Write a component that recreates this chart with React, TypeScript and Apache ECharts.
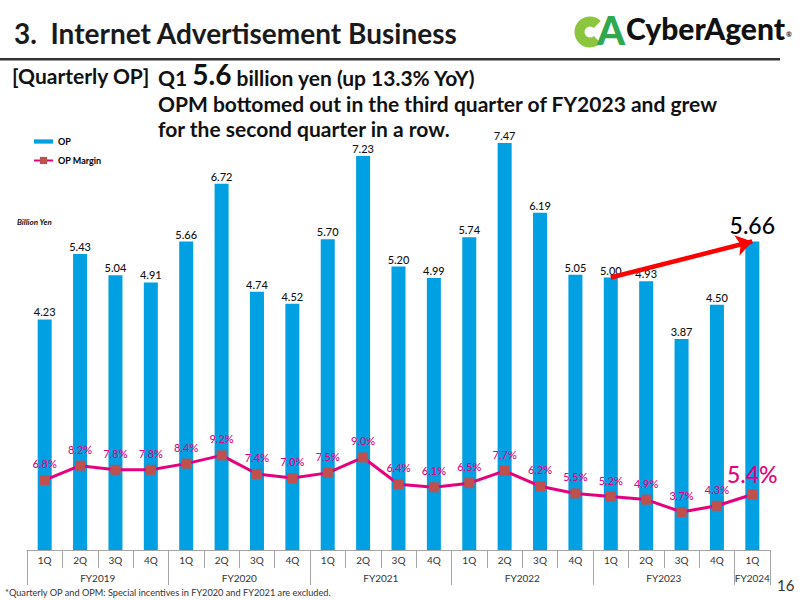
import React, { useEffect, useRef } from "react";
import * as echarts from "echarts";

// Quarter labels along the bottom axis
const quarterLabels = [
  "1Q", "2Q", "3Q", "4Q",
  "1Q", "2Q", "3Q", "4Q",
  "1Q", "2Q", "3Q", "4Q",
  "1Q", "2Q", "3Q", "4Q",
  "1Q", "2Q", "3Q", "4Q",
  "1Q",
];

// Fiscal years and how many quarters each one spans on the axis
const fiscalYears = ["FY2019", "FY2020", "FY2021", "FY2022", "FY2023", "FY2024"];
const quartersPerYear = [4, 4, 4, 4, 4, 1];

// Operating profit (billion yen)
const opValues = [
  4.23, 5.43, 5.04, 4.91,
  5.66, 6.72, 4.74, 4.52,
  5.70, 7.23, 5.20, 4.99,
  5.74, 7.47, 6.19, 5.05,
  5.00, 4.93, 3.87, 4.50,
  5.66,
];

// Operating profit margin (%)
const opmValues = [
  6.8, 8.2, 7.8, 7.8,
  8.4, 9.2, 7.4, 7.0,
  7.5, 9.0, 6.4, 6.1,
  6.5, 7.7, 6.2, 5.5,
  5.2, 4.9, 3.7, 4.3,
  5.4,
];

const FONT = "Lato, 'Noto Sans', sans-serif";
const BLUE = "#00a0e2";
const PINK = "#e6007e";
const MARKER = "#c0504d";

export default function App() {
  const ref = useRef<HTMLDivElement>(null);

  useEffect(() => {
    if (!ref.current) return;
    const chart = echarts.init(ref.current, undefined, { renderer: "svg" });

    // Half-quarter point axis for the fiscal-year row: boundaries and centres
    const n = quarterLabels.length;
    const yearAxisData: string[] = new Array(2 * n + 1).fill("");
    const boundaries = new Set<number>();
    let cum = 0;
    boundaries.add(0);
    quartersPerYear.forEach((q, i) => {
      const start = cum;
      cum += q;
      boundaries.add(2 * cum);
      yearAxisData[start + cum] = fiscalYears[i];
    });

    const last = n - 1;

    const option: echarts.EChartsOption = {
      animation: false,
      textStyle: { fontFamily: FONT },
      grid: { left: 27, right: 30, top: 114, bottom: 50, containLabel: false },
      legend: {
        orient: "vertical",
        left: 28,
        top: 132,
        itemGap: 10,
        itemWidth: 19,
        itemHeight: 9,
        textStyle: { fontSize: 9, fontWeight: "bold", color: "#000", fontFamily: FONT },
        data: [
          { name: "OP", icon: "path://M0,0h20v4.5h-20z" },
          { name: "OP Margin" },
        ],
      },
      xAxis: [
        {
          type: "category",
          data: quarterLabels,
          boundaryGap: true,
          axisLine: { lineStyle: { color: "#a6a6a6", width: 1 } },
          axisTick: { show: true, interval: 0, length: 18, lineStyle: { color: "#a6a6a6" } },
          axisLabel: { interval: 0, fontSize: 10, color: "#333", margin: 5, fontFamily: FONT },
        },
        {
          type: "category",
          data: yearAxisData,
          boundaryGap: false,
          position: "bottom",
          axisLine: { show: false },
          axisTick: {
            show: true,
            length: 35,
            interval: (idx: number) => boundaries.has(idx),
            lineStyle: { color: "#a6a6a6" },
          },
          axisLabel: { interval: 0, fontSize: 10, color: "#333", margin: 23, fontFamily: FONT },
        },
      ],
      yAxis: [
        { type: "value", min: 0, max: 8, show: false, splitLine: { show: false } },
        { type: "value", min: 0, max: 42.4, show: false, splitLine: { show: false } },
      ],
      series: [
        {
          name: "OP",
          type: "bar",
          xAxisIndex: 0,
          yAxisIndex: 0,
          barWidth: 14,
          itemStyle: { color: BLUE },
          label: {
            show: true,
            position: "top",
            distance: 2,
            fontSize: 11,
            lineHeight: 11,
            fontWeight: 500,
            color: "#111",
            fontFamily: FONT,
            formatter: (p: any) => Number(p.value).toFixed(2),
          },
          data: opValues.map((v, i) =>
            i === last
              ? { value: v, label: { fontSize: 23, lineHeight: 23, distance: 5, color: "#000" } }
              : v
          ),
          markLine: {
            silent: true,
            symbol: ["none", "arrow"],
            symbolSize: 16,
            label: { show: false },
            lineStyle: { color: "#ff0000", width: 4.5, type: "solid" },
            emphasis: { disabled: true },
            data: [
              [
                { coord: [16, opValues[16]] },
                { coord: [last, opValues[last]] },
              ],
            ] as any,
          },
        },
        {
          name: "OP Margin",
          type: "line",
          xAxisIndex: 0,
          yAxisIndex: 1,
          symbol: "rect",
          symbolSize: 10,
          z: 5,
          itemStyle: { color: MARKER },
          lineStyle: { color: PINK, width: 3 },
          label: {
            show: true,
            position: "top",
            distance: 6,
            fontSize: 11,
            fontWeight: 500,
            color: PINK,
            fontFamily: FONT,
            formatter: (p: any) => Number(p.value).toFixed(1) + "%",
          },
          data: opmValues.map((v, i) =>
            i === last ? { value: v, label: { fontSize: 23, distance: 4 } } : v
          ),
        },
      ],
      graphic: [
        {
          type: "text",
          left: 14,
          top: 19,
          style: {
            text: "3.  Internet Advertisement Business",
            font: `bold 28px ${FONT}`,
            fill: "#1a1a1a",
          },
        },
        {
          type: "rect",
          shape: { x: 0, y: 58, width: 780, height: 2.5 },
          style: { fill: "#333" },
        },
        // company logo: "C" mark drawn as a thick arc, "A" as text
        {
          type: "arc",
          shape: { cx: 590, cy: 32, r: 10.5, startAngle: 0.8, endAngle: Math.PI * 2 - 0.8, clockwise: true },
          style: { stroke: "#8cc63e", lineWidth: 10, fill: "none", lineCap: "butt" },
        },
        {
          type: "text",
          left: 597,
          top: 10,
          style: { text: "A", font: `900 40px ${FONT}`, fill: "#2fa84f" },
        },
        {
          type: "text",
          left: 626,
          top: 13,
          style: {
            text: "{n|CyberAgent}{r|®}",
            rich: {
              n: { font: `900 30px ${FONT}`, fill: "#111", verticalAlign: "bottom" },
              r: { font: `bold 7px ${FONT}`, fill: "#111", verticalAlign: "bottom", padding: [0, 0, 6, 1] },
            },
          } as any,
        },
        // headline
        {
          type: "text",
          left: 12,
          top: 65,
          style: { text: "[Quarterly OP]", font: `bold 21px ${FONT}`, fill: "#111" },
        },
        {
          type: "text",
          left: 158,
          top: 60,
          style: {
            text: "{a|Q1 }{b|5.6}{a| billion yen (up 13.3% YoY)}",
            rich: {
              a: { font: `bold 21px ${FONT}`, fill: "#111", verticalAlign: "bottom" },
              b: { font: `bold 28px ${FONT}`, fill: "#111", verticalAlign: "bottom" },
            },
          } as any,
        },
        {
          type: "text",
          x: 158,
          y: 103.5,
          style: {
            text: "OPM bottomed out in the third quarter of FY2023 and grew",
            font: `bold 21px ${FONT}`,
            verticalAlign: "middle",
            fill: "#111",
          },
        },
        {
          type: "text",
          x: 158,
          y: 128.5,
          style: {
            text: "for the second quarter in a row.",
            font: `bold 21px ${FONT}`,
            verticalAlign: "middle",
            fill: "#111",
          },
        },
        {
          type: "text",
          left: 17,
          top: 218,
          style: { text: "Billion Yen", font: `italic bold 8px ${FONT}`, fill: "#111" },
        },
        {
          type: "text",
          left: 5,
          top: 588,
          style: {
            text: "*Quarterly OP and OPM: Special incentives in FY2020 and FY2021 are excluded.",
            font: `9.2px ${FONT}`,
            fill: "#333",
          },
        },
        {
          type: "text",
          left: 777,
          top: 577,
          style: { text: "16", font: `15px ${FONT}`, fill: "#333" },
        },
      ],
    };

    chart.setOption(option);
    return () => chart.dispose();
  }, []);

  return (
    <div
      ref={ref}
      style={{ position: "absolute", left: 0, top: 0, width: 800, height: 600, background: "#fff" }}
    />
  );
}
